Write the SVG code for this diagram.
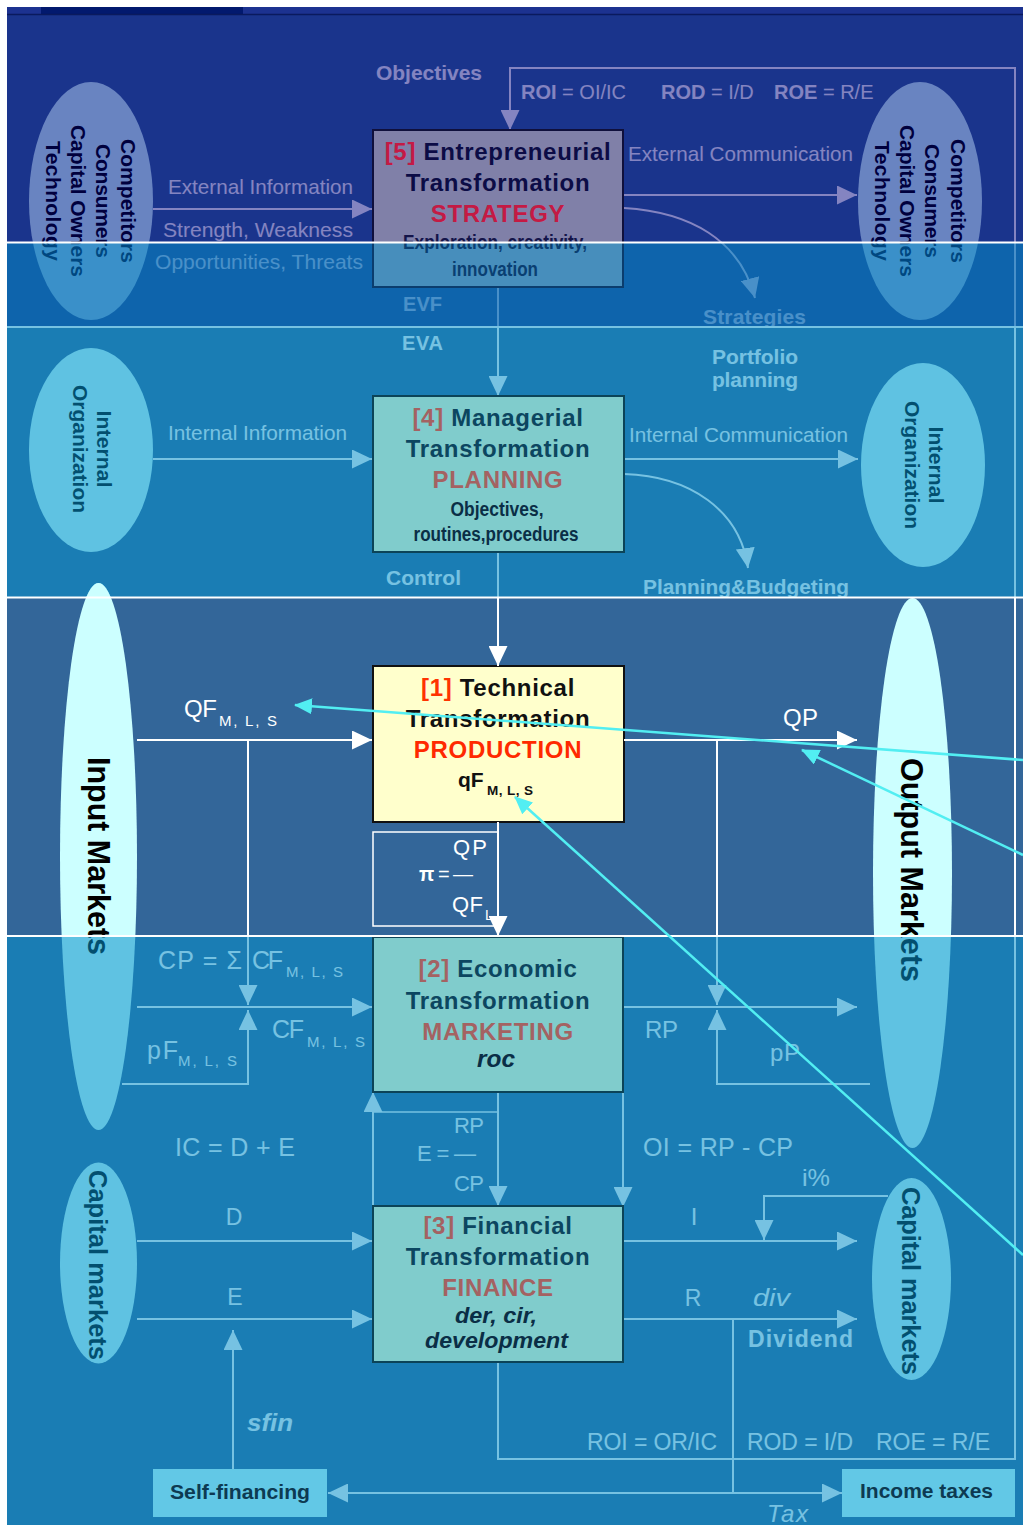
<svg xmlns="http://www.w3.org/2000/svg" width="1023" height="1525" viewBox="0 0 1023 1525">
<defs>
<style>
text{font-family:"Liberation Sans",Arial,sans-serif}
.w{fill:#fff}
.wb{fill:#fff;font-weight:bold}
.ttl{font-size:24px;font-weight:bold;letter-spacing:0.7px;text-anchor:middle}
.sub{font-weight:bold;text-anchor:middle}
.ell{font-weight:bold;text-anchor:middle;fill:#000}
.c{fill:none;stroke:#fff;stroke-width:2}
.c1{fill:none;stroke:#fff;stroke-width:1.5}
.cy{fill:none;stroke:#52eef2;stroke-width:2.5}
</style>
<marker id="ah" viewBox="0 0 20 19" refX="20" refY="9.5" markerWidth="20" markerHeight="19" markerUnits="userSpaceOnUse" orient="auto"><path d="M0,0L20,9.5L0,19z" fill="#fff"/></marker>
<marker id="ahc" viewBox="0 0 18 16" refX="17" refY="8" markerWidth="18" markerHeight="16" markerUnits="userSpaceOnUse" orient="auto"><path d="M0,0L18,8L0,16z" fill="#52eef2"/></marker>
<clipPath id="clipA"><rect x="0" y="0" width="1023" height="242.5"/></clipPath>
<clipPath id="clipB"><rect x="0" y="242.5" width="1023" height="100"/></clipPath>
<clipPath id="clipTip"><rect x="40" y="560" width="120" height="37"/></clipPath>
</defs>

<rect width="1023" height="1525" fill="#fff"/>
<rect x="7" y="7" width="1016" height="1518" fill="#336699"/>

<g id="env-left">
<ellipse cx="91" cy="201" rx="62" ry="119" fill="#ccffff"/>
<g transform="translate(91,201) rotate(90)" font-size="21">
<text class="ell" y="-30" textLength="124">Competitors</text>
<text class="ell" y="-5" textLength="114">Consumers</text>
<text class="ell" y="20" textLength="152">Capital Owners</text>
<text class="ell" y="45" textLength="120">Technology</text>
</g>
</g>
<g id="env-right">
<ellipse cx="920" cy="201" rx="62" ry="119" fill="#ccffff"/>
<g transform="translate(920,201) rotate(90)" font-size="21">
<text class="ell" y="-31" textLength="124">Competitors</text>
<text class="ell" y="-5" textLength="114">Consumers</text>
<text class="ell" y="20" textLength="152">Capital Owners</text>
<text class="ell" y="45" textLength="120">Technology</text>
</g>
</g>
<g id="intorg-left">
<ellipse cx="91" cy="450" rx="62" ry="102" fill="#ccffff"/>
<g transform="translate(91,449) rotate(90)" font-size="21">
<text class="ell" y="-6" textLength="77">Internal</text>
<text class="ell" y="18" textLength="128">Organization</text>
</g>
</g>
<g id="intorg-right">
<ellipse cx="923" cy="465" rx="62" ry="102" fill="#ccffff"/>
<g transform="translate(923,465) rotate(90)" font-size="21">
<text class="ell" y="-6" textLength="77">Internal</text>
<text class="ell" y="18" textLength="128">Organization</text>
</g>
</g>
<g id="input-markets">
<ellipse cx="98.5" cy="856.5" rx="38.5" ry="273.5" fill="#ccffff"/>
<text class="ell" transform="translate(98,856) rotate(90)" y="10" font-size="30.5" textLength="198">Input Markets</text>
</g>
<g id="output-markets">
<ellipse cx="912.5" cy="873" rx="39.5" ry="275" fill="#ccffff"/>
<text class="ell" transform="translate(912,870) rotate(90)" y="11" font-size="30.5" textLength="224">Output Markets</text>
</g>
<g id="capital-left">
<ellipse cx="98.5" cy="1263" rx="38.5" ry="100.5" fill="#ccffff"/>
<text class="ell" transform="translate(98,1265) rotate(90)" y="9" font-size="25.5" textLength="190">Capital markets</text>
</g>
<g id="capital-right">
<ellipse cx="911.5" cy="1279" rx="39.5" ry="101" fill="#ccffff"/>
<text class="ell" transform="translate(912,1281) rotate(90)" y="10" font-size="25.5" textLength="188">Capital markets</text>
</g>

<g id="box-production">
<rect x="373" y="666" width="251" height="156" fill="#ffffcc" stroke="#111" stroke-width="2"/>
<text class="ttl" x="498" y="696" fill="#111"><tspan fill="#ff3300">[1]</tspan> Technical</text>
<text class="ttl" x="498" y="727" fill="#111">Transformation</text>
<text class="ttl" x="498" y="758" fill="#ff2a00">PRODUCTION</text>
<text x="458" y="787" font-size="21" font-weight="bold" fill="#111">qF</text>
<text x="487" y="795" font-size="13.5" font-weight="bold" fill="#111" textLength="46">M, L, S</text>
</g>

<g id="connectors">
<polyline class="c" points="498,1362 498,1459 1015,1459 1015,68 510,68 510,130" marker-end="url(#ah)"/>
<line class="c" x1="153" y1="209" x2="372" y2="209" marker-end="url(#ah)"/>
<line class="c" x1="624" y1="195" x2="857" y2="195" marker-end="url(#ah)"/>
<path class="c" d="M624,208 C690,212 740,240 755,298" marker-end="url(#ah)"/>
<line class="c" x1="498" y1="287" x2="498" y2="396" marker-end="url(#ah)"/>
<line class="c" x1="153" y1="459" x2="372" y2="459" marker-end="url(#ah)"/>
<line class="c" x1="624" y1="459" x2="858" y2="459" marker-end="url(#ah)"/>
<path class="c" d="M624,474 C690,476 740,510 748,568" marker-end="url(#ah)"/>
<line class="c" x1="498" y1="552" x2="498" y2="666" marker-end="url(#ah)"/>
<line class="c" x1="137" y1="740" x2="372" y2="740" marker-end="url(#ah)"/>
<line class="c" x1="248" y1="740" x2="248" y2="1005" marker-end="url(#ah)"/>
<line class="c" x1="137" y1="1007" x2="372" y2="1007" marker-end="url(#ah)"/>
<polyline class="c" points="122,1084 248,1084 248,1010" marker-end="url(#ah)"/>
<line class="c" x1="624" y1="740" x2="857" y2="740" marker-end="url(#ah)"/>
<line class="c" x1="717" y1="740" x2="717" y2="1005" marker-end="url(#ah)"/>
<line class="c" x1="624" y1="1007" x2="857" y2="1007" marker-end="url(#ah)"/>
<polyline class="c" points="870,1084 717,1084 717,1010" marker-end="url(#ah)"/>
<line class="c" x1="498" y1="822" x2="498" y2="936" marker-end="url(#ah)"/>
<rect class="c1" x="373" y="832" width="125" height="94"/>
<line class="c" x1="498" y1="1092" x2="498" y2="1206" marker-end="url(#ah)"/>
<line class="c" x1="373" y1="1206" x2="373" y2="1092" marker-end="url(#ah)"/>
<line class="c1" x1="373" y1="1112" x2="498" y2="1112"/>
<line class="c" x1="623" y1="1092" x2="623" y2="1207" marker-end="url(#ah)"/>
<line class="c" x1="137" y1="1241" x2="372" y2="1241" marker-end="url(#ah)"/>
<line class="c" x1="137" y1="1319" x2="372" y2="1319" marker-end="url(#ah)"/>
<line class="c" x1="623" y1="1241" x2="857" y2="1241" marker-end="url(#ah)"/>
<line class="c" x1="623" y1="1319" x2="857" y2="1319" marker-end="url(#ah)"/>
<polyline class="c" points="888,1196 764,1196 764,1240" marker-end="url(#ah)"/>
<line class="c" x1="233" y1="1469" x2="233" y2="1330" marker-end="url(#ah)"/>
<line class="c" x1="733" y1="1319" x2="733" y2="1493"/>
<line class="c" x1="733" y1="1493" x2="328" y2="1493" marker-end="url(#ah)"/>
<line class="c" x1="733" y1="1493" x2="842" y2="1493" marker-end="url(#ah)"/>
</g>

<g id="labels">
<text class="wb" x="376" y="80" font-size="21" textLength="106">Objectives</text>
<text class="w" x="521" y="99" font-size="20"><tspan font-weight="bold">ROI</tspan> = OI/IC</text>
<text class="w" x="661" y="99" font-size="20"><tspan font-weight="bold">ROD</tspan> = I/D</text>
<text class="w" x="774" y="99" font-size="20"><tspan font-weight="bold">ROE</tspan> = R/E</text>
<text class="w" x="168" y="194" font-size="21" textLength="185" lengthAdjust="spacingAndGlyphs">External Information</text>
<text class="w" x="163" y="237" font-size="21" textLength="190" lengthAdjust="spacingAndGlyphs">Strength, Weakness</text>
<text class="w" x="155" y="269" font-size="21" textLength="208" lengthAdjust="spacingAndGlyphs">Opportunities, Threats</text>
<text class="w" x="628" y="161" font-size="21" textLength="225" lengthAdjust="spacingAndGlyphs">External Communication</text>
<text class="wb" x="403" y="311" font-size="20" textLength="39">EVF</text>
<text class="wb" x="703" y="324" font-size="21" textLength="103">Strategies</text>
<text class="wb" x="402" y="350" font-size="20" textLength="41">EVA</text>
<text class="wb" x="712" y="364" font-size="21" textLength="86">Portfolio</text>
<text class="wb" x="712" y="387" font-size="21" textLength="86">planning</text>
<text class="w" x="168" y="440" font-size="21" textLength="179" lengthAdjust="spacingAndGlyphs">Internal Information</text>
<text class="w" x="629" y="442" font-size="21" textLength="219" lengthAdjust="spacingAndGlyphs">Internal Communication</text>
<text class="wb" x="386" y="585" font-size="21" textLength="75">Control</text>
<text class="wb" x="643" y="594" font-size="21" textLength="206" lengthAdjust="spacingAndGlyphs">Planning&amp;Budgeting</text>
<text class="w" x="184" y="717" font-size="24" textLength="33">QF</text>
<text class="w" x="219" y="726" font-size="15" textLength="58">M, L, S</text>
<text class="w" x="783" y="726" font-size="24" textLength="35">QP</text>
<text class="w" x="453" y="855" font-size="22" textLength="34">QP</text>
<text class="wb" x="419" y="881" font-size="20">π</text>
<text class="w" x="438" y="881" font-size="20" textLength="35">= —</text>
<text class="w" x="452" y="912" font-size="22" textLength="31">QF</text>
<text class="w" x="485" y="920" font-size="14">L</text>
<text class="w" x="158" y="969" font-size="25" textLength="84">CP = Σ</text>
<text class="w" x="252" y="969" font-size="25" textLength="31">CF</text>
<text class="w" x="286" y="977" font-size="15" textLength="57">M, L, S</text>
<text class="w" x="272" y="1038" font-size="25" textLength="32">CF</text>
<text class="w" x="307" y="1047" font-size="15" textLength="58">M, L, S</text>
<text class="w" x="147" y="1059" font-size="25" textLength="31">pF</text>
<text class="w" x="178" y="1066" font-size="15" textLength="59">M, L, S</text>
<text class="w" x="175" y="1156" font-size="25" textLength="120">IC = D + E</text>
<text class="w" x="234" y="1225" font-size="23" text-anchor="middle">D</text>
<text class="w" x="235" y="1305" font-size="23" text-anchor="middle">E</text>
<text class="w" x="454" y="1133" font-size="22" textLength="30">RP</text>
<text class="w" x="417" y="1161" font-size="22" textLength="59">E = —</text>
<text class="w" x="454" y="1191" font-size="22" textLength="30">CP</text>
<text class="w" x="645" y="1038" font-size="24" textLength="33">RP</text>
<text class="w" x="770" y="1061" font-size="24" textLength="30">pP</text>
<text class="w" x="643" y="1156" font-size="25" textLength="150">OI = RP - CP</text>
<text class="w" x="802" y="1186" font-size="24" textLength="28" lengthAdjust="spacingAndGlyphs">i%</text>
<text class="w" x="694" y="1225" font-size="24" text-anchor="middle">I</text>
<text class="w" x="693" y="1306" font-size="23" text-anchor="middle">R</text>
<text class="w" x="753" y="1306" font-size="24" font-style="italic" textLength="37" lengthAdjust="spacingAndGlyphs">div</text>
<text class="wb" x="748" y="1347" font-size="23" textLength="105">Dividend</text>
<text class="w" x="587" y="1450" font-size="23" textLength="130">ROI = OR/IC</text>
<text class="w" x="747" y="1450" font-size="23" textLength="106">ROD = I/D</text>
<text class="w" x="876" y="1450" font-size="23" textLength="114">ROE = R/E</text>
<text class="wb" x="247" y="1431" font-size="24" font-style="italic" textLength="46" lengthAdjust="spacingAndGlyphs">sfin</text>
<text class="w" x="767" y="1522" font-size="24" font-style="italic" textLength="41">Tax</text>
</g>

<g id="bands">
<rect x="7" y="14" width="1016" height="228.5" fill="#01007e" fill-opacity="0.484"/>
<rect x="7" y="242.5" width="1016" height="84" fill="#0064b3" fill-opacity="0.713"/>
<rect x="7" y="326.5" width="1016" height="270.5" fill="#0590ca" fill-opacity="0.549"/>
<rect x="7" y="936" width="1016" height="589" fill="#0590ca" fill-opacity="0.549"/>
</g>
<ellipse id="input-markets-tip" cx="98.5" cy="856.5" rx="38.5" ry="273.5" fill="#ccffff" clip-path="url(#clipTip)"/>

<g id="box-strategy">
<rect x="373" y="130" width="250" height="157" fill="#8080a8" stroke="#10103c" stroke-width="2" clip-path="url(#clipA)"/>
<rect x="373" y="130" width="250" height="157" fill="#478ebc" stroke="#0b3d6e" stroke-width="2" clip-path="url(#clipB)"/>
<text class="ttl" x="498" y="160" fill="#0c0c46"><tspan fill="#c41a44">[5]</tspan> Entrepreneurial</text>
<text class="ttl" x="498" y="191" fill="#0c0c46">Transformation</text>
<text class="ttl" x="498" y="222" fill="#c41a44">STRATEGY</text>
<text class="sub" x="495" y="249" font-size="20" fill="#14144a" textLength="184" lengthAdjust="spacingAndGlyphs" clip-path="url(#clipA)">Exploration, creativity,</text>
<text class="sub" x="495" y="249" font-size="20" fill="#0a3f72" textLength="184" lengthAdjust="spacingAndGlyphs" clip-path="url(#clipB)">Exploration, creativity,</text>
<text class="sub" x="495" y="276" font-size="20" fill="#0a3f72" textLength="86" lengthAdjust="spacingAndGlyphs">innovation</text>
</g>

<g id="box-planning">
<rect x="373" y="396" width="251" height="156" fill="#80cccc" stroke="#0c4458" stroke-width="2"/>
<text class="ttl" x="498" y="426" fill="#0c4660"><tspan fill="#a46262">[4]</tspan> Managerial</text>
<text class="ttl" x="498" y="457" fill="#0c4660">Transformation</text>
<text class="ttl" x="498" y="488" fill="#a46262">PLANNING</text>
<text class="sub" x="497" y="516" font-size="20" fill="#0a2e46" textLength="93" lengthAdjust="spacingAndGlyphs">Objectives,</text>
<text class="sub" x="496" y="541" font-size="20" fill="#0a2e46" textLength="165" lengthAdjust="spacingAndGlyphs">routines,procedures</text>
</g>

<g id="box-marketing">
<rect x="373" y="937" width="250" height="155" fill="#80cccc" stroke="#0c4458" stroke-width="2"/>
<text class="ttl" x="498" y="977" fill="#0c4660"><tspan fill="#a46262">[2]</tspan> Economic</text>
<text class="ttl" x="498" y="1009" fill="#0c4660">Transformation</text>
<text class="ttl" x="498" y="1040" fill="#a46262">MARKETING</text>
<text class="sub" x="496" y="1067" font-size="23" font-style="italic" fill="#0a2e46" textLength="38" lengthAdjust="spacingAndGlyphs">roc</text>
</g>

<g id="box-finance">
<rect x="373" y="1206" width="250" height="156" fill="#80cccc" stroke="#0c4458" stroke-width="2"/>
<text class="ttl" x="498" y="1234" fill="#0c4660"><tspan fill="#a46262">[3]</tspan> Financial</text>
<text class="ttl" x="498" y="1265" fill="#0c4660">Transformation</text>
<text class="ttl" x="498" y="1296" fill="#a46262">FINANCE</text>
<text class="sub" x="496" y="1323" font-size="22" font-style="italic" fill="#0a2e46" textLength="82" lengthAdjust="spacingAndGlyphs">der, cir,</text>
<text class="sub" x="496.5" y="1348" font-size="22" font-style="italic" fill="#0a2e46" textLength="143" lengthAdjust="spacingAndGlyphs">development</text>
</g>

<g id="self-financing">
<rect x="153" y="1469" width="174" height="48" fill="#62c8e6"/>
<text x="240" y="1499" font-size="21" font-weight="bold" fill="#0d3a52" text-anchor="middle" textLength="140" lengthAdjust="spacingAndGlyphs">Self-financing</text>
</g>
<g id="income-taxes">
<rect x="842" y="1469" width="173" height="48" fill="#62c8e6"/>
<text x="926.5" y="1498" font-size="21" font-weight="bold" fill="#0d3a52" text-anchor="middle" textLength="133" lengthAdjust="spacingAndGlyphs">Income taxes</text>
</g>

<g id="dividers">
<rect x="7" y="7" width="1016" height="7" fill="#1c3290"/>
<rect x="41" y="7" width="202" height="7" fill="#02196e"/>
<line x1="7" y1="14.5" x2="1023" y2="14.5" stroke="#0a1a5e" stroke-width="1.5"/>
<line x1="7" y1="242.5" x2="1023" y2="242.5" stroke="#fff" stroke-width="2"/>
<line x1="7" y1="327" x2="1023" y2="327" stroke="#76c2e2" stroke-width="2"/>
<line x1="7" y1="597.5" x2="1023" y2="597.5" stroke="#fff" stroke-width="2"/>
<line x1="7" y1="936" x2="1023" y2="936" stroke="#fff" stroke-width="2"/>
</g>

<g id="annotation-arrows">
<line class="cy" x1="1023" y1="760" x2="295" y2="705" marker-end="url(#ahc)"/>
<line class="cy" x1="1023" y1="855" x2="802" y2="750" marker-end="url(#ahc)"/>
<line class="cy" x1="1023" y1="1255" x2="515" y2="797" marker-end="url(#ahc)"/>
</g>
</svg>
